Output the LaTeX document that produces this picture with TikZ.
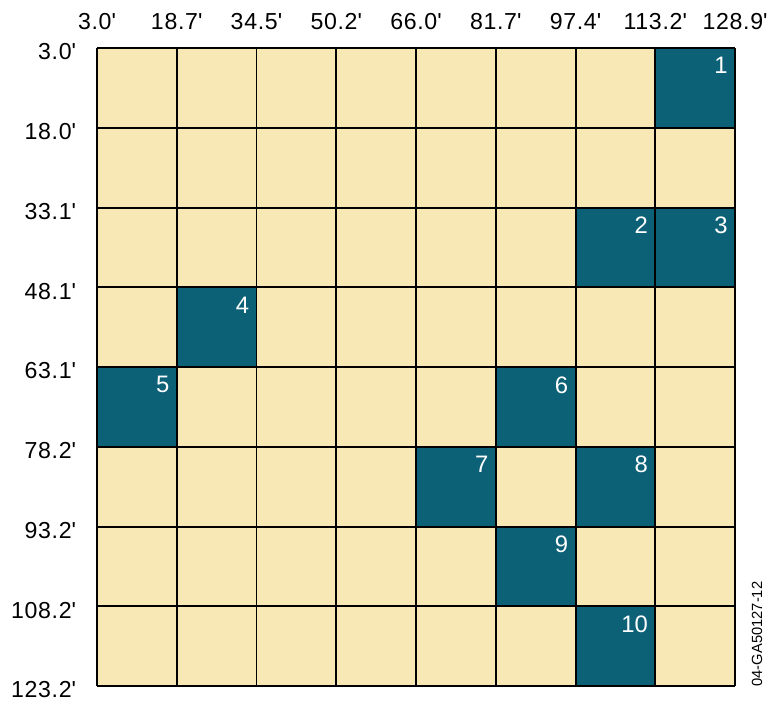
\documentclass[tikz,border=0pt]{standalone}
\usepackage{fontspec}
\setmainfont{Liberation Sans}
\definecolor{c1}{RGB}{248,232,181}
\definecolor{c2}{RGB}{13,97,119}
\newcommand{\ftmark}{\textquotesingle}
\newfontfamily\labfont[LetterSpace=3]{Liberation Sans}

\begin{document}
\begin{tikzpicture}[x=2cm,y=-2cm,
    gridline/.style={draw=black,line width=1.4pt},
    collabel/.style={anchor=base,font=\labfont\fontsize{16.5}{18}\selectfont},
    rowlabel/.style={anchor=mid east,font=\labfont\fontsize{16.5}{18}\selectfont},
    cellnum/.style={anchor=north east,inner sep=0pt,text=white,font=\fontsize{17}{19}\selectfont}]
    \useasboundingbox (-1.216,-0.604) rectangle (8.426,8.226);
    % light background of the whole field
    \fill[c1] (0,0) rectangle (8,8);
    % dark cells, number in the upper right corner
    \foreach \c/\r/\n in {7/0/1, 6/2/2, 7/2/3, 1/3/4, 0/4/5, 5/4/6, 4/5/7, 6/5/8, 5/6/9, 6/7/10} {
        \fill[c2] (\c,\r) rectangle ++(1,1);
        \node[cellnum] (num\n) at (\c+0.912,\r+0.113) {\n};
    }
    % grid lines over the cells
    \foreach \i in {0,...,8} {
        \draw[gridline] (\i,0) -- (\i,8);
        \draw[gridline] (0,\i) -- (8,\i);
    }
    % distances along the top
    \foreach \lab [count=\i from 0] in {3.0,18.7,34.5,50.2,66.0,81.7,97.4,113.2,128.9}
        \node[collabel] (col\i) at (\i,-0.235) {\lab\ftmark};
    % distances down the left side
    \foreach \lab [count=\i from 0] in {3.0,18.0,33.1,48.1,63.1,78.2,93.2,108.2,123.2}
        \node[rowlabel] (row\i) at (-0.2,\i+0.1) {\lab\ftmark};
    \node[rotate=90,font=\fontsize{10.5}{12}\selectfont] (figid) at (8.276,7.346) {04-GA50127-12};
\end{tikzpicture}
\end{document}
